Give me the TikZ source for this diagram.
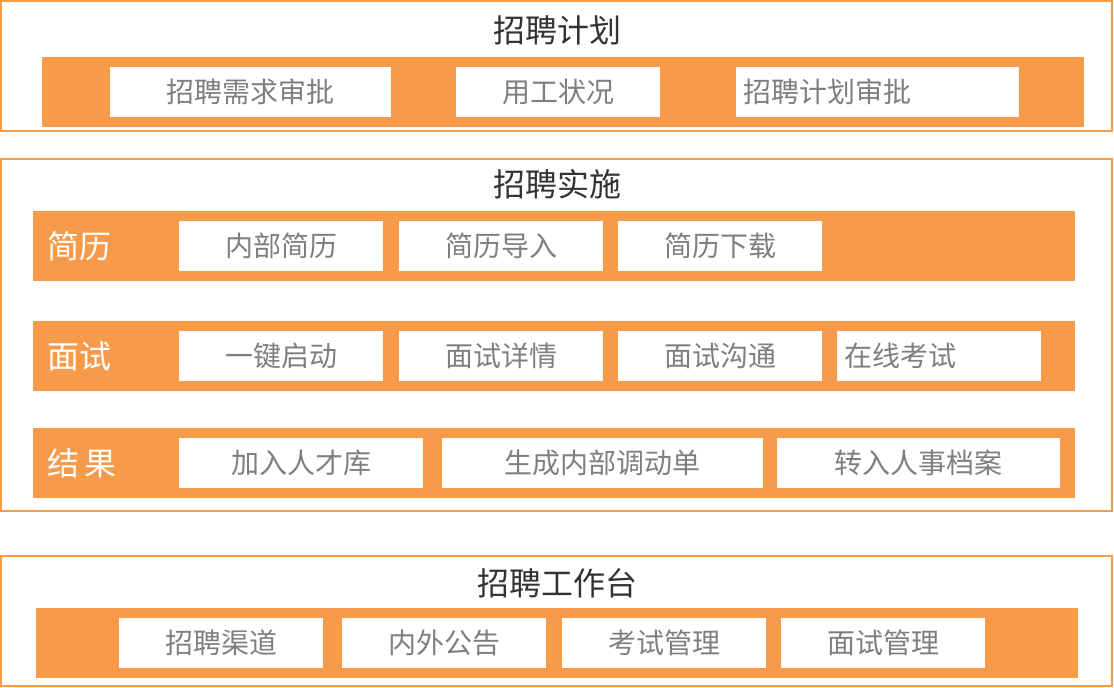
\documentclass[tikz,border=0pt]{standalone}
\usepackage{fontspec}
\newfontfamily\cjk{Noto Sans CJK SC}
\usetikzlibrary{positioning}
\definecolor{hrorange}{HTML}{F79A4A}
\definecolor{hrgray}{HTML}{7F7F7F}
\definecolor{hrtitle}{HTML}{333333}

\begin{document}
\begin{tikzpicture}[x=1pt,y=-1pt]
          \tikzstyle{panel} = [draw=hrorange, line width=1.2pt]
          \tikzstyle{bar} = [fill=hrorange]
          \tikzstyle{title} = [text=hrtitle, font=\cjk\fontsize{32}{34}\selectfont]
          \tikzstyle{item} = [fill=white, inner sep=0pt, minimum height=50pt, text=hrgray, font=\cjk\fontsize{28}{30}\selectfont]
          \tikzstyle{legend} = [text=white, font=\cjk\fontsize{32}{34}\selectfont, anchor=west]
          \useasboundingbox (0,0) rectangle (1114,688);

          % Panels
          \draw[panel] (1,1) rectangle (1112,131);
          \draw[panel] (1,159) rectangle (1112,511);
          \draw[panel] (1,556) rectangle (1112,686);
          \node[title] (plan) at (557,30) {招聘计划};
          \node[title] (impl) at (557,184) {招聘实施};
          \node[title] (desk) at (557,583) {招聘工作台};

          % Bars
          \fill[bar] (42,57) rectangle (1084,127);
          \fill[bar] (33,211) rectangle (1075,281);
          \fill[bar] (33,321) rectangle (1075,391);
          \fill[bar] (33,428) rectangle (1075,498);
          \fill[bar] (36,608) rectangle (1078,678);
          \node[legend] (cv) at (44,246) {简历};
          \node[legend] (iv) at (44,356) {面试};
          \node[legend] (res) at (44,463) {结\,果};

          % Items: name / left / right / y / text
          \foreach \name / \l / \r / \y / \txt in {
              p1/110/391/92/招聘需求审批, p2/456/660/92/用工状况,
              c1/179/383/246/内部简历, c2/399/603/246/简历导入, c3/618/822/246/简历下载,
              i1/179/383/356/一键启动, i2/399/603/356/面试详情, i3/618/822/356/面试沟通,
              r1/179/423/463/加入人才库, r2/442/763/463/生成内部调动单, r3/777/1060/463/转入人事档案,
              d1/119/323/643/招聘渠道, d2/342/546/643/内外公告, d3/562/766/643/考试管理, d4/781/985/643/面试管理}
            \node[item, minimum width={\r-\l}] (\name) at ({(\l+\r)/2},\y) {\txt};
          \node[item, minimum width=283pt, text width=268pt, align=left] (p3) at (877.5,92) {招聘计划审批};
          \node[item, minimum width=204pt, text width=189pt, align=left] (i4) at (939,356) {在线考试};

        \end{tikzpicture}
\end{document}
